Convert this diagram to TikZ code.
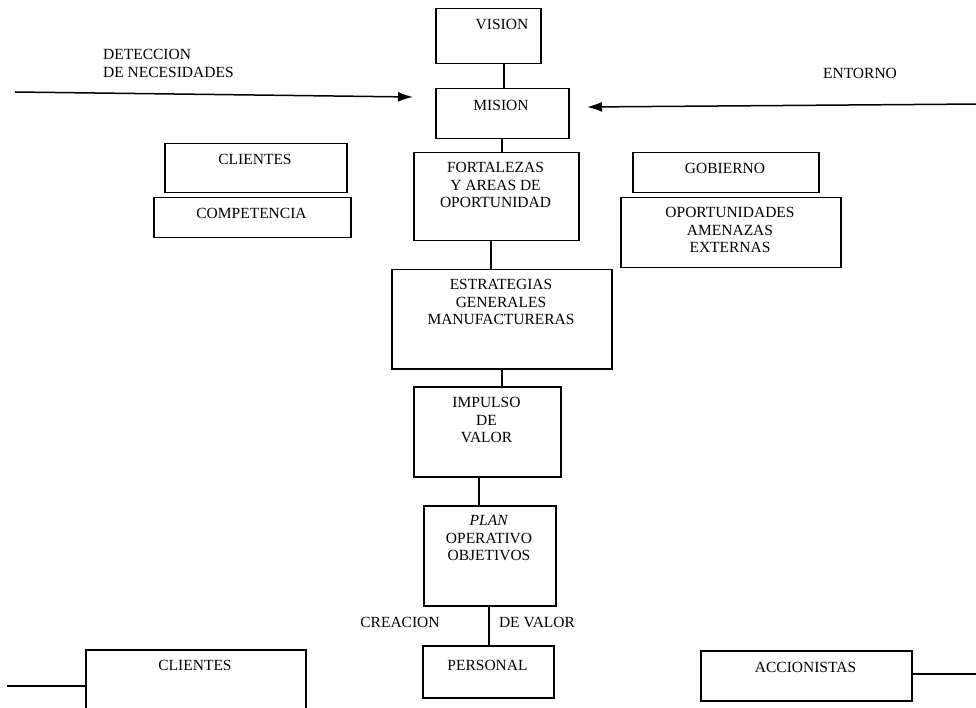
\documentclass[tikz,border=0pt]{standalone}
\usepackage{fontspec}
\setmainfont{Liberation Serif}
\usetikzlibrary{arrows.meta}

\newcommand\diagfont{\fontsize{15.5}{17.5}\selectfont}
\def\boxLine{1.5pt}
\tikzset{
  diagram/.style={x=1pt,y=-1pt},
  box/.style={draw,line width=\boxLine,inner sep=0pt,anchor=north west},
  caption/.style={align=center,inner sep=0pt,font=\diagfont},
  flow/.style={line width=\boxLine},
  feed/.style={line width=\boxLine,-{Latex[length=15pt,width=10pt]}}
}

\begin{document}
\begin{tikzpicture}[diagram]
    \useasboundingbox (0,0) rectangle (976,708);
    \clip (0,0) rectangle (976,708);

    % central column
    \node[box,minimum width=105pt,minimum height=55pt] (vision) at (435,8) {};
    \node[caption] (visionText) at (502,24) {VISION};

    \node[box,minimum width=133pt,minimum height=50pt] (mision) at (435,88) {};
    \node[caption] (misionText) at (501,105) {MISION};

    \node[box,minimum width=165pt,minimum height=88pt] (fortalezas) at (413,152) {};
    \node[caption] (fortalezasText) at (495.5,185) {FORTALEZAS\\Y AREAS DE\\OPORTUNIDAD};

    \node[box,minimum width=220pt,minimum height=99pt] (estrategias) at (391,269) {};
    \node[caption] (estrategiasText) at (501,302) {ESTRATEGIAS\\GENERALES\\MANUFACTURERAS};

    \node[box,minimum width=147pt,minimum height=90pt] (impulso) at (413,386) {};
    \node[caption] (impulsoText) at (486.5,420) {IMPULSO\\DE\\VALOR};

    \node[box,minimum width=132pt,minimum height=100pt] (plan) at (423,505) {};
    \node[caption] (planText) at (489,538) {\textit{PLAN}\\OPERATIVO\\OBJETIVOS};

    \node[box,minimum width=131pt,minimum height=52pt] (personal) at (422,645) {};
    \node[caption] (personalText) at (487.5,665) {PERSONAL};

    % left side
    \node[box,minimum width=182pt,minimum height=49pt] (clientesTop) at (164,143) {};
    \node[caption] (clientesTopText) at (255,159) {CLIENTES};

    \node[box,minimum width=197pt,minimum height=40pt] (competencia) at (153,197) {};
    \node[caption] (competenciaText) at (251.5,213) {COMPETENCIA};

    % right side
    \node[box,minimum width=186pt,minimum height=40pt] (gobierno) at (632,152) {};
    \node[caption] (gobiernoText) at (725,168) {GOBIERNO};

    \node[box,minimum width=220pt,minimum height=70pt] (oportunidades) at (620,197) {};
    \node[caption] (oportunidadesText) at (730,230) {OPORTUNIDADES\\AMENAZAS\\EXTERNAS};

    % bottom row
    \node[box,minimum width=220pt,minimum height=70pt] (clientesLow) at (85,649) {};
    \node[caption] (clientesLowText) at (195,665) {CLIENTES};

    \node[box,minimum width=211pt,minimum height=50pt] (accionistas) at (700,650) {};
    \node[caption] (accionistasText) at (805.5,667) {ACCIONISTAS};

    % free labels
    \node[caption,align=left,anchor=west] (detectionText) at (103,63.5) {DETECCION\\DE NECESIDADES};
    \node[caption] (entornoText) at (860,73) {ENTORNO};
    \node[caption] (creacionText) at (400,622) {CREACION};
    \node[caption] (deValorText) at (537,622) {DE VALOR};

    % incoming arrows
    \coordinate (detectionStart) at (15,92);
    \coordinate (detectionEnd) at (413,97);
    \coordinate (entornoStart) at (980,104);
    \coordinate (entornoEnd) at (587,107);
    \draw[feed] (detectionStart) -- (detectionEnd);
    \draw[feed] (entornoStart) -- (entornoEnd);

    % column links
    \draw[flow] ([xshift=15.5pt]vision.south) -- ([xshift=1.5pt]mision.north);
    \draw[flow] ([xshift=-0.5pt]mision.south) -- ([xshift=5.5pt]fortalezas.north);
    \draw[flow] ([xshift=-5.5pt]fortalezas.south) -- ([xshift=-11pt]estrategias.north);
    \draw[flow] (estrategias.south) -- ([xshift=14.5pt]impulso.north);
    \draw[flow] ([xshift=-8.5pt]impulso.south) -- ([xshift=-11pt]plan.north);
    \draw[flow] ([xshift=-1pt]plan.south) -- ([xshift=0.5pt]personal.north);

    % bottom feeds
    \coordinate (clientesLowEnd) at (7,686);
    \coordinate (accionistasEnd) at (980,674);
    \draw[flow] (clientesLowEnd) -- (clientesLowEnd -| clientesLow.west);
    \draw[flow] (accionistas.east |- accionistasEnd) -- (accionistasEnd);
\end{tikzpicture}
\end{document}
